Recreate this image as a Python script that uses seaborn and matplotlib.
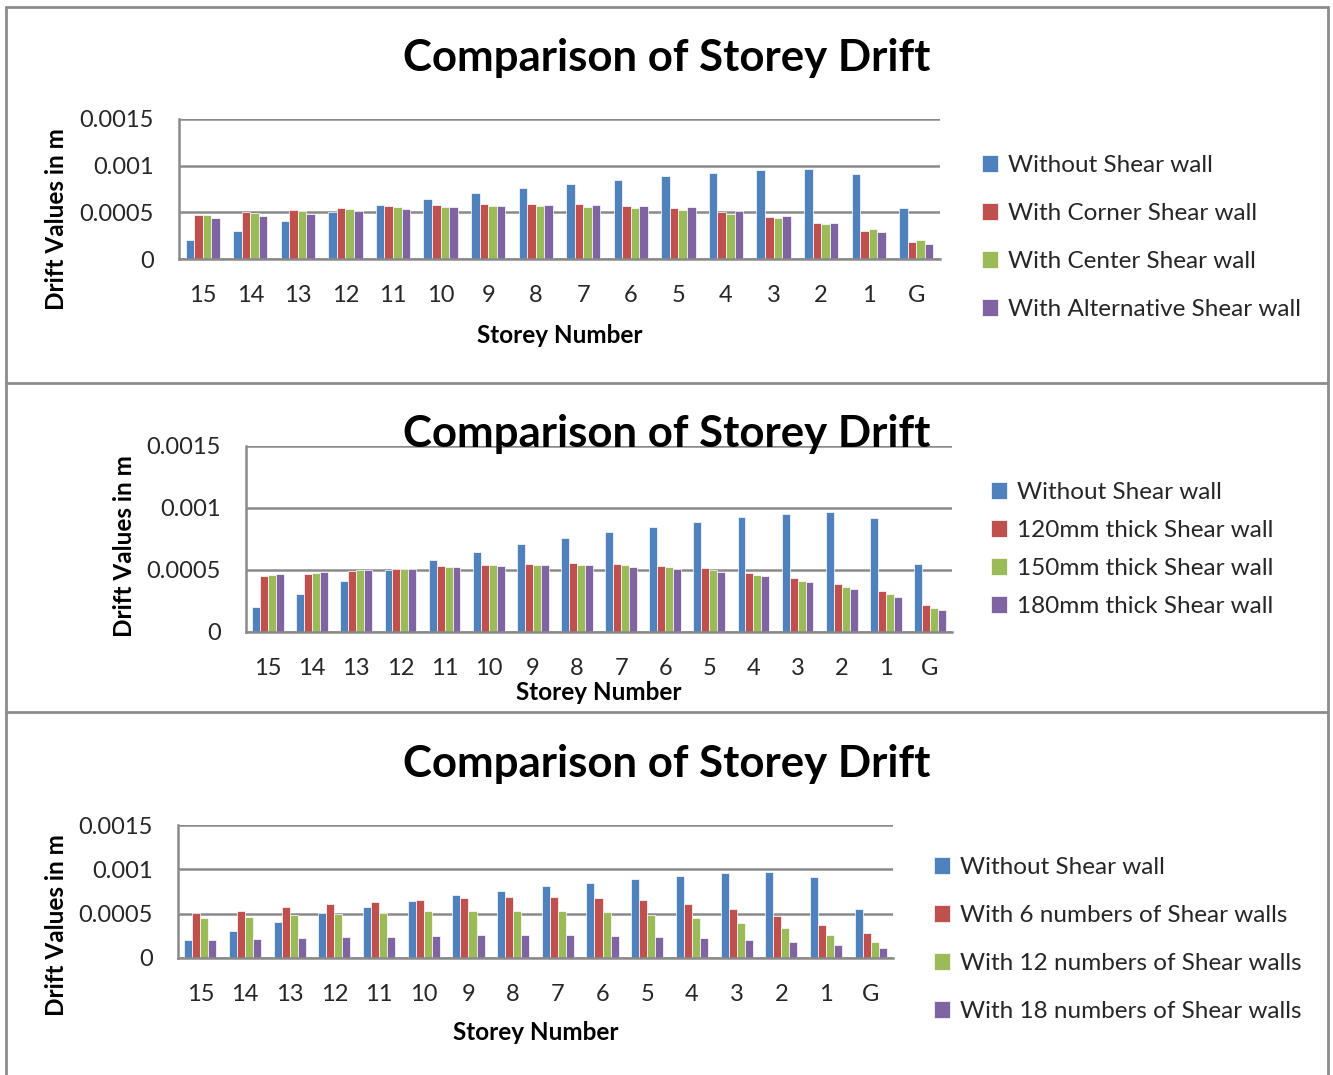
import pandas as pd
import matplotlib
matplotlib.use("Agg")
import matplotlib.pyplot as plt
import seaborn as sns
from matplotlib.lines import Line2D

storeys = ["15", "14", "13", "12", "11", "10", "9", "8", "7", "6", "5", "4", "3", "2", "1", "G"]

# values, storey 15 down to G
without_wall = [0.000200, 0.000305, 0.000410, 0.000502, 0.000580, 0.000648, 0.000707, 0.000757,
                0.000807, 0.000850, 0.000888, 0.000924, 0.000955, 0.000967, 0.000916, 0.000547]

# panel 1: position of the shear wall
corner_wall = [0.000475, 0.000504, 0.000529, 0.000546, 0.000568, 0.000579, 0.000589, 0.000593,
               0.000589, 0.000568, 0.000546, 0.000504, 0.000454, 0.000386, 0.000304, 0.000182]
center_wall = [0.000475, 0.000496, 0.000518, 0.000536, 0.000554, 0.000560, 0.000568, 0.000568,
               0.000560, 0.000546, 0.000521, 0.000482, 0.000436, 0.000379, 0.000325, 0.000207]
alt_wall = [0.000440, 0.000457, 0.000482, 0.000510, 0.000536, 0.000557, 0.000571, 0.000579,
            0.000582, 0.000571, 0.000554, 0.000514, 0.000461, 0.000386, 0.000293, 0.000161]

# panel 2: wall thickness
thick_120 = [0.000455, 0.000468, 0.000489, 0.000508, 0.000529, 0.000540, 0.000551, 0.000556,
             0.000548, 0.000535, 0.000513, 0.000479, 0.000436, 0.000385, 0.000332, 0.000217]
thick_150 = [0.000460, 0.000476, 0.000497, 0.000508, 0.000521, 0.000537, 0.000540, 0.000540,
             0.000537, 0.000521, 0.000500, 0.000460, 0.000414, 0.000361, 0.000305, 0.000195]
thick_180 = [0.000468, 0.000484, 0.000497, 0.000508, 0.000521, 0.000532, 0.000537, 0.000537,
             0.000527, 0.000508, 0.000487, 0.000449, 0.000401, 0.000345, 0.000286, 0.000179]

# panel 3: number of shear walls
walls_6 = [0.000511, 0.000534, 0.000571, 0.000605, 0.000635, 0.000658, 0.000680, 0.000692,
           0.000692, 0.000673, 0.000650, 0.000609, 0.000549, 0.000470, 0.000368, 0.000278]
walls_12 = [0.000455, 0.000466, 0.000485, 0.000500, 0.000511, 0.000526, 0.000534, 0.000534,
            0.000526, 0.000515, 0.000489, 0.000447, 0.000398, 0.000335, 0.000256, 0.000177]
walls_18 = [0.000207, 0.000218, 0.000222, 0.000233, 0.000241, 0.000248, 0.000256, 0.000256,
            0.000256, 0.000252, 0.000241, 0.000229, 0.000207, 0.000184, 0.000150, 0.000109]

labels_1 = ["Without Shear wall", "With Corner Shear wall", "With Center Shear wall",
            "With Alternative Shear wall"]
labels_2 = ["Without Shear wall", "120mm thick Shear wall", "150mm thick Shear wall",
            "180mm thick Shear wall"]
labels_3 = ["Without Shear wall", "With 6 numbers of Shear walls", "With 12 numbers of Shear walls",
            "With 18 numbers of Shear walls"]

colors = ["#4F81BD", "#C0504D", "#9BBB59", "#8064A2"]
grid_gray = "#8a8a8a"

W, H = 1333, 1075

sns.set_style("white")
plt.rcParams["font.family"] = ["Lato", "DejaVu Sans"]


def long_table(series, labels):
    rows = []
    for vals, lab in zip(series, labels):
        for s, v in zip(storeys, vals):
            rows.append({"storey": s, "drift": v, "series": lab})
    return pd.DataFrame(rows)


def draw_panel(fig, box, series, labels, title_y, ylab_xy, xlab_y, leg_xy, leg_space):
    l, t, r, b = box
    ax = fig.add_axes([l / W, 1 - b / H, (r - l) / W, (b - t) / H])
    df = long_table(series, labels)
    sns.barplot(data=df, x="storey", y="drift", hue="series", order=storeys,
                hue_order=labels, palette=colors, saturation=1, width=0.72,
                edgecolor="white", linewidth=0.5, ax=ax)
    ax.set_ylim(0, 0.0015)
    ax.set_xlim(-0.5, len(storeys) - 0.5)
    ax.set_yticks([0, 0.0005, 0.001, 0.0015])
    ax.set_yticklabels(["0", "0.0005", "0.001", "0.0015"], fontsize=17)
    ax.set_xticks(range(len(storeys)))
    ax.set_xticklabels(storeys, fontsize=17)
    ax.set_xticks([i - 0.5 for i in range(len(storeys) + 1)], minor=True)
    ax.tick_params(axis="x", which="major", length=0, pad=19)
    ax.tick_params(axis="x", which="minor", length=6, width=1.5, color=grid_gray, direction="out")
    ax.tick_params(axis="y", length=8, width=1.5, color=grid_gray, direction="out", pad=10)
    ax.yaxis.grid(True, color=grid_gray, linewidth=1.8)
    ax.set_axisbelow(True)
    for side in ["top", "right"]:
        ax.spines[side].set_visible(False)
    for side in ["left", "bottom"]:
        ax.spines[side].set_color(grid_gray)
        ax.spines[side].set_linewidth(1.8)
    ax.set_xlabel("")
    ax.set_ylabel("")

    fig.text(0.5, 1 - title_y / H, "Comparison of Storey Drift", ha="center", va="center",
             fontsize=31.5, fontweight="bold", color="black")
    fig.text(ylab_xy[0] / W, 1 - ylab_xy[1] / H, "Drift Values in m", rotation=90,
             ha="center", va="center", fontsize=17.5, fontweight="bold", color="black")
    fig.text((l + r) / 2 / W, 1 - xlab_y / H, "Storey Number", ha="center", va="center",
             fontsize=17.5, fontweight="bold", color="black")

    handles, labs = ax.get_legend_handles_labels()
    ax.get_legend().remove()
    ax.legend(handles, labs, loc="upper left", bbox_to_anchor=(leg_xy[0] / W, 1 - leg_xy[1] / H),
              bbox_transform=fig.transFigure, frameon=False, fontsize=17.5,
              handlelength=0.65, handleheight=0.65, handletextpad=0.4,
              labelspacing=leg_space, borderaxespad=0, borderpad=0)
    return ax


fig = plt.figure(figsize=(W / 100, H / 100), dpi=100)

draw_panel(fig, (179, 119, 940, 259), [without_wall, corner_wall, center_wall, alt_wall],
           labels_1, 58, (57, 219), 335, (982, 155), 1.11)
draw_panel(fig, (246, 446, 952, 632), [without_wall, thick_120, thick_150, thick_180],
           labels_2, 434, (125, 546), 692, (991, 482), 0.70)
draw_panel(fig, (178, 825, 893, 958), [without_wall, walls_6, walls_12, walls_18],
           labels_3, 764, (57, 925), 1033, (934, 857), 1.11)

# panel frames
frame = dict(color="#8c8c8c", linewidth=2, transform=fig.transFigure)
x0, x1 = 6 / W, 1328 / W
fig.add_artist(Line2D([x0, x1], [1 - 7 / H, 1 - 7 / H], **frame))
fig.add_artist(Line2D([x0, x0], [0, 1 - 7 / H], **frame))
fig.add_artist(Line2D([x1, x1], [0, 1 - 7 / H], **frame))
for y in [383, 712]:
    fig.add_artist(Line2D([x0, x1], [1 - y / H, 1 - y / H], **frame))

fig.savefig("out.png", dpi=100)
